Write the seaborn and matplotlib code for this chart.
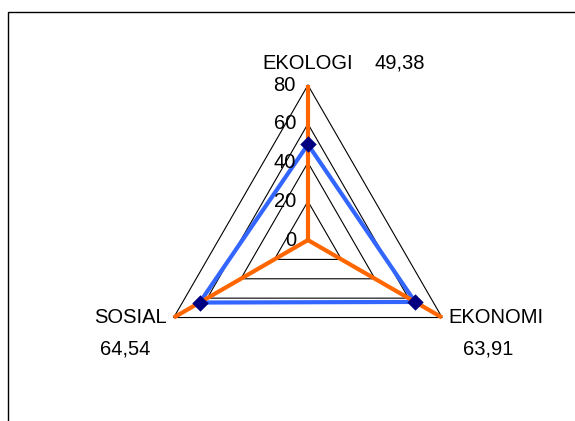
import numpy as np
import matplotlib
matplotlib.use("Agg")
import matplotlib.pyplot as plt
from matplotlib.patches import Rectangle
import seaborn as sns

# data
categories = ["EKOLOGI", "EKONOMI", "SOSIAL"]
scores = [49.38, 63.91, 64.54]
score_labels = ["49,38", "63,91", "64,54"]
spoke_max = [80, 80, 80]
grid_levels = [20, 40, 60, 80]
tick_values = [0, 20, 40, 60, 80]

sns.set_theme(style="white")
plt.rcParams['font.family'] = ['Liberation Sans', 'DejaVu Sans']

fig = plt.figure(figsize=(5.75, 4.21), dpi=100)
fig.patch.set_facecolor('white')

# chart area border (only left/top visible in the crop)
fig.patches.append(Rectangle((8 / 575, -0.5), 1.5, 1 - 12 / 421 + 0.5, transform=fig.transFigure,
                             fill=False, edgecolor='black', linewidth=1.0))

ax = fig.add_axes([0.266, 0.0618, 0.539, 0.736], projection='polar')
ax.set_theta_zero_location('N')
ax.set_theta_direction(-1)
ax.patch.set_alpha(0)

n = len(categories)
theta = np.linspace(0, 2 * np.pi, n, endpoint=False)
theta_closed = np.append(theta, 2 * np.pi)

# triangular grid
for lvl in grid_levels:
    ax.plot(theta_closed, [lvl] * (n + 1), color='black', linewidth=0.8, clip_on=False, zorder=1)

# blue series
vals_closed = scores + scores[:1]
sns.lineplot(x=theta_closed, y=vals_closed, sort=False, estimator=None, ax=ax,
             color='#3366FF', linewidth=3, zorder=2)

# orange spokes
for th, m in zip(theta, spoke_max):
    ax.plot([th, th], [0, m], color='#FF6600', linewidth=3, clip_on=False,
            solid_capstyle='butt', zorder=3)

sns.scatterplot(x=theta, y=scores, marker='D', s=70, color='#000080', linewidth=0,
                ax=ax, zorder=4, clip_on=False)

ax.set_ylim(0, 80)
ax.set_xticks([])
ax.set_yticks([])
ax.grid(False)
ax.spines['polar'].set_visible(False)
ax.set_xlabel('')
ax.set_ylabel('')

fs = 14.5

# radial tick labels along top axis
for v in tick_values:
    ax.annotate(str(v), xy=(0, v), xytext=(-12, 0), textcoords='offset pixels',
                ha='right', va='center', fontsize=fs, color='black', annotation_clip=False)

# category + value labels
label_offsets = [(0, 22), (6, 0), (-7, 0)]
label_ha = ['center', 'left', 'right']
value_offsets = [(92, 22), (46, -31), (-49, -31)]
for th, cat, lab, lo, ha, vo in zip(theta, categories, score_labels, label_offsets, label_ha, value_offsets):
    ax.annotate(cat, xy=(th, 80), xytext=lo, textcoords='offset pixels',
                ha=ha, va='center', fontsize=fs, color='black', annotation_clip=False)
    ax.annotate(lab, xy=(th, 80), xytext=vo, textcoords='offset pixels',
                ha='center', va='center', fontsize=fs, color='black', annotation_clip=False)

fig.savefig('out.png', dpi=100, facecolor='white')
